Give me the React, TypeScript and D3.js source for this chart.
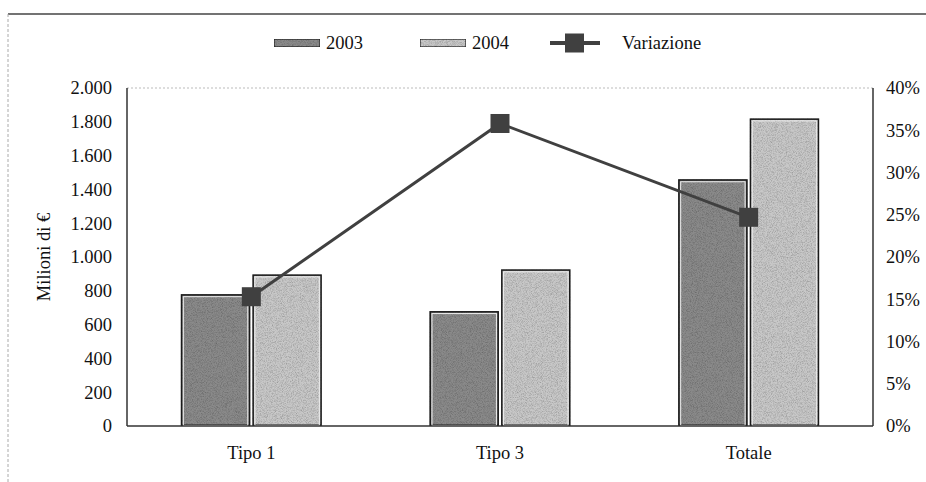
import React from "react";
import * as d3 from "d3";

const categories = ["Tipo 1", "Tipo 3", "Totale"];
const series = ["2003", "2004"];
const values2003 = [780, 680, 1460];
const values2004 = [897, 927, 1820];
const variazione = [15.3, 35.8, 24.7];
const leftTicks = [0, 200, 400, 600, 800, 1000, 1200, 1400, 1600, 1800, 2000];
const rightTicks = [0, 5, 10, 15, 20, 25, 30, 35, 40];

const W = 926;
const H = 482;
const M = { left: 127, right: 873, top: 88, bottom: 426 };
const FONT = "'Liberation Serif', 'DejaVu Serif', serif";
const colors: Record<string, string> = { "2003": "#8a8a8a", "2004": "#c8c8c8" };

const fmtIt = (v: number) => d3.format(",")(v).replace(/,/g, ".");

export default function App() {
  const x = d3.scaleBand<string>().domain(categories).range([M.left, M.right]).paddingInner(0.433).paddingOuter(0.2165);
  const xs = d3.scaleBand<string>().domain(series).range([0, x.bandwidth()]).paddingInner(0.03);
  const y = d3.scaleLinear().domain([0, 2000]).range([M.bottom, M.top]);
  const y2 = d3.scaleLinear().domain([0, 40]).range([M.bottom, M.top]);
  const data: Record<string, number[]> = { "2003": values2003, "2004": values2004 };
  const line = d3
    .line<number>()
    .x((_, i) => (x(categories[i]) as number) + x.bandwidth() / 2)
    .y((d) => y2(d));

  const ms = 19;

  return (
    <svg width={W} height={H} style={{ position: "absolute", left: 0, top: 0, background: "#fff" }}>
      <defs>
        <filter id="grain" x="0" y="0" width="100%" height="100%">
          <feTurbulence type="fractalNoise" baseFrequency="1.2" numOctaves="2" seed="3" result="n" />
          <feColorMatrix in="n" type="matrix" values="0 0 0 0 0  0 0 0 0 0  0 0 0 0 0  0 0 0 0.9 -0.35" result="dots" />
          <feComposite in="dots" in2="SourceGraphic" operator="in" result="d2" />
          <feMerge>
            <feMergeNode in="SourceGraphic" />
            <feMergeNode in="d2" />
          </feMerge>
        </filter>
      </defs>
      {/* frame */}
      <line x1={8} x2={W} y1={14} y2={14} stroke="#444" strokeWidth={1.3} />
      <line x1={8} x2={8} y1={14} y2={H} stroke="#aaa" strokeWidth={1} strokeDasharray="3 2" />

      {/* plot top border */}
      <line x1={M.left} x2={M.right} y1={M.top} y2={M.top} stroke="#bbb" strokeWidth={1} strokeDasharray="2 2" />

      {/* bars */}
      {series.map((s) =>
        categories.map((c, i) => {
          const bx = (x(c) as number) + (xs(s) as number);
          const by = y(data[s][i]);
          const bw = xs.bandwidth();
          const bh = M.bottom - by;
          return (
            <g key={s + c}>
              <rect x={bx} y={by} width={bw} height={bh} fill={colors[s]} filter="url(#grain)" />
              <rect x={bx + 0.75} y={by + 0.75} width={bw - 1.5} height={bh - 1.5} fill="none" stroke="#1a1a1a" strokeWidth={1.5} />
              <rect x={bx + 2.5} y={by + 2.5} width={bw - 5} height={bh - 3} fill="none" stroke="#eee" strokeWidth={1} />
            </g>
          );
        })
      )}

      {/* axes */}
      <line x1={M.left} x2={M.left} y1={M.top} y2={M.bottom} stroke="#333" strokeWidth={1.5} />
      <line x1={M.right} x2={M.right} y1={M.top} y2={M.bottom} stroke="#333" strokeWidth={1.5} />
      <line x1={M.left} x2={M.right} y1={M.bottom} y2={M.bottom} stroke="#333" strokeWidth={1.5} />

      {leftTicks.map((t) => (
        <text key={"l" + t} x={112} y={y(t)} dy="0.35em" textAnchor="end" fontFamily={FONT} fontSize={18.5} fill="#111">
          {fmtIt(t)}
        </text>
      ))}
      {rightTicks.map((t) => (
        <text key={"r" + t} x={886} y={y2(t)} dy="0.35em" textAnchor="start" fontFamily={FONT} fontSize={18.5} fill="#111">
          {t + "%"}
        </text>
      ))}
      {categories.map((c) => (
        <text key={c} x={(x(c) as number) + x.bandwidth() / 2} y={459} textAnchor="middle" fontFamily={FONT} fontSize={18.5} fill="#111">
          {c}
        </text>
      ))}
      <text transform={`translate(50,${(M.top + M.bottom) / 2}) rotate(-90)`} textAnchor="middle" fontFamily={FONT} fontSize={18.5} fill="#111">
        Milioni di €
      </text>

      {/* line */}
      <path d={line(variazione) as string} fill="none" stroke="#404040" strokeWidth={3} />
      {variazione.map((v, i) => (
        <rect
          key={"m" + i}
          x={(x(categories[i]) as number) + x.bandwidth() / 2 - ms / 2}
          y={y2(v) - ms / 2}
          width={ms}
          height={ms}
          fill="#404040"
        />
      ))}

      {/* legend */}
      <g fontFamily={FONT} fontSize={18.5} fill="#111">
        <rect x={274} y={39} width={46} height={8} fill={colors["2003"]} stroke="#222" strokeWidth={1.2} filter="url(#grain)" />
        <text x={326} y={49}>2003</text>
        <rect x={420} y={39} width={46} height={8} fill={colors["2004"]} stroke="#222" strokeWidth={1.2} filter="url(#grain)" />
        <text x={472} y={49}>2004</text>
        <line x1={550} x2={600} y1={43} y2={43} stroke="#404040" strokeWidth={4} />
        <rect x={565} y={33.5} width={19} height={19} fill="#404040" />
        <text x={622} y={49}>Variazione</text>
      </g>
    </svg>
  );
}
